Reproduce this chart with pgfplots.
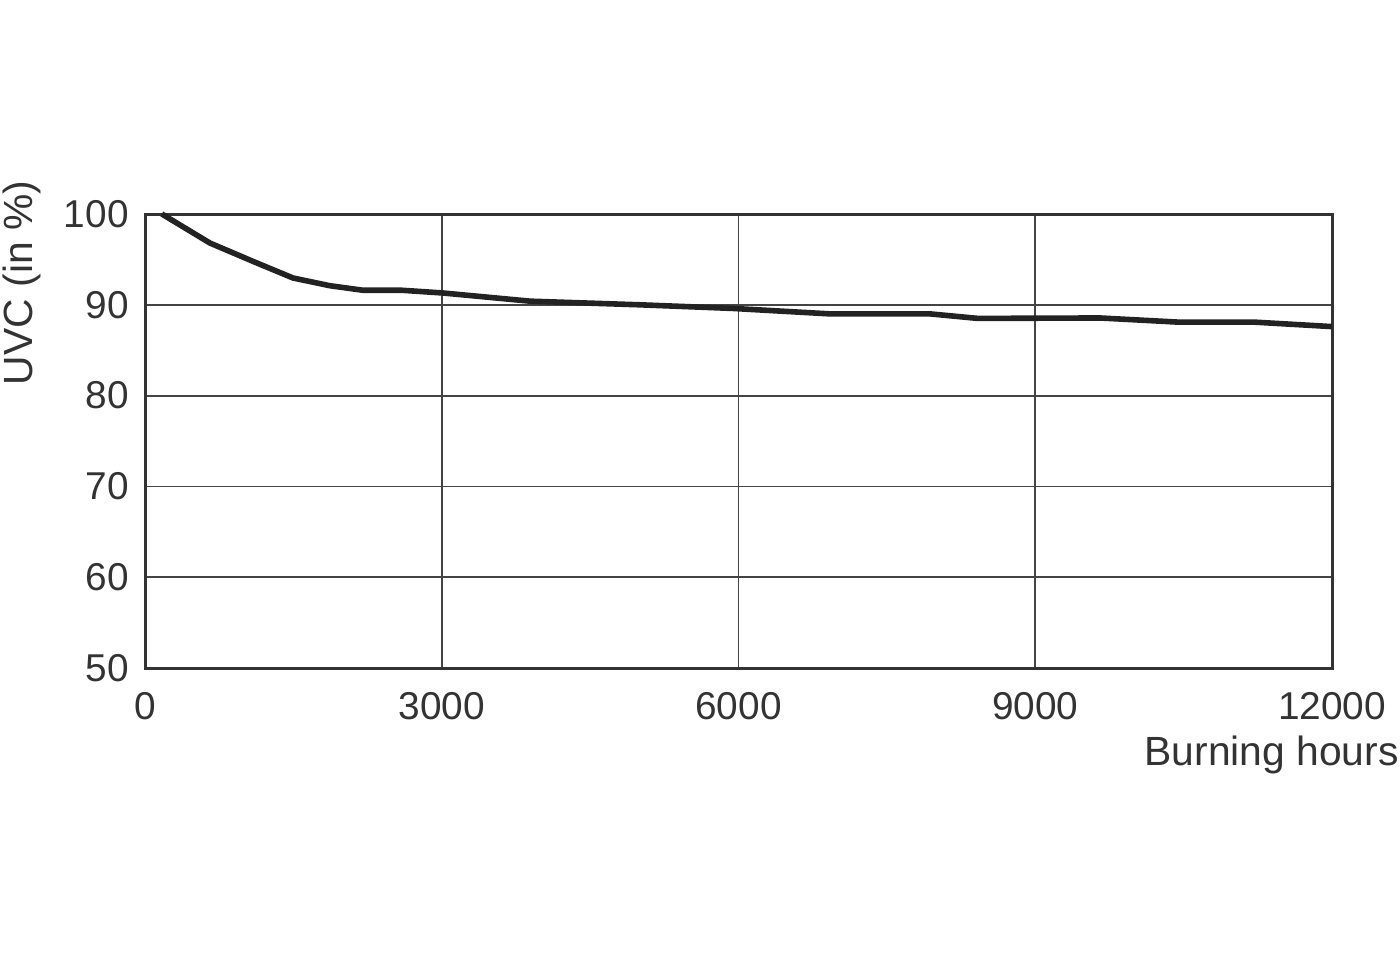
\documentclass[border=0pt]{standalone}
\usepackage{pgfplots}
\pgfplotsset{compat=1.18}
\usepackage{fontspec}
\setmainfont{Liberation Sans}
\definecolor{curve}{HTML}{222222}
\definecolor{gridc}{HTML}{444444}
\definecolor{framec}{HTML}{333333}
\begin{document}
\fontsize{19.4}{23}\selectfont
\begin{tikzpicture}
\useasboundingbox (0,0) rectangle (700pt,480pt);
\begin{axis}[
  at={(72.5pt,146pt)}, anchor=south west,
  scale only axis, width=593.5pt, height=227pt,
  xmin=0, xmax=12000, ymin=50, ymax=100,
  xtick={0,3000,6000,9000,12000},
  ytick={50,60,70,80,90,100},
  scaled x ticks=false,
  /pgf/number format/1000 sep={},
  /pgf/number format/assume math mode=true,
  xticklabel style={anchor=north, inner sep=0pt, yshift=-12pt, text=framec},
  yticklabel style={anchor=east, inner sep=0pt, xshift=-8pt, text=framec},
  major tick length=0pt,
  grid=major,
  grid style={gridc, line width=0.9pt},
  axis line style={framec, line width=1.5pt},
  clip=false,
]
\addplot[curve, line width=2.8pt, line join=round] coordinates {
(170,100)
(657,96.8)
(1110,94.7)
(1497,92.95)
(1870,92.1)
(2204,91.6)
(2598,91.6)
(3013,91.3)
(3892,90.4)
(5004,90.0)
(5944,89.6)
(6925,89.0)
(7936,89.0)
(8421,88.5)
(9654,88.55)
(10433,88.1)
(11201,88.1)
(12000,87.6)
};
\end{axis}
\node[anchor=base east, inner sep=0pt, text=framec, font=\fontsize{20.4}{24}\selectfont] at (699.5pt,97.5pt) {Burning hours};
\node[rotate=90, inner sep=0pt, text=framec, font=\fontsize{20.4}{24}\selectfont] at (11pt,338.5pt) {UVC (in \%)};
\end{tikzpicture}
\end{document}
